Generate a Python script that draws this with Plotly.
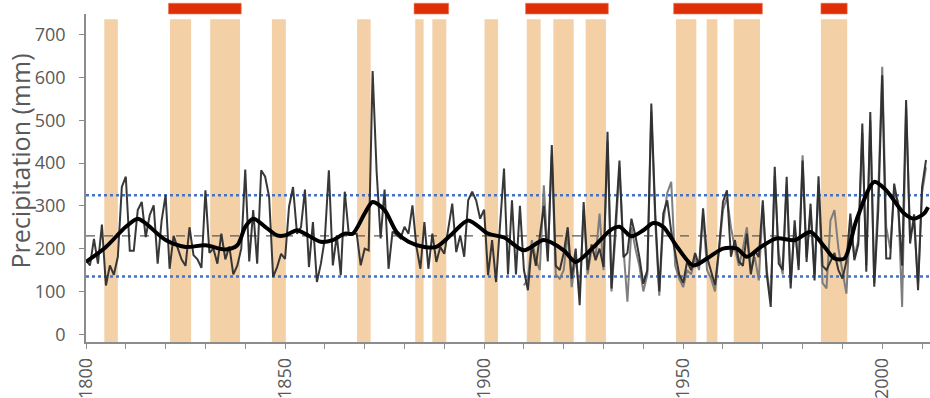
import plotly.graph_objects as go

# ---------------- data ----------------
years_main = list(range(1800, 2012))
precip_main = [
    173, 161, 223, 165, 256, 114, 161, 139, 181, 344,   # 1800-1809
    368, 195, 195, 290, 309, 227, 278, 301, 165, 266,   # 1810-1819
    325, 153, 230, 200, 175, 160, 250, 185, 175, 155,   # 1820-1829
    336, 190, 200, 165, 235, 175, 205, 140, 160, 200,   # 1830-1839
    385, 170, 290, 165, 383, 368, 321, 134, 157, 188,   # 1840-1849
    176, 298, 344, 235, 250, 338, 157, 262, 122, 165,   # 1850-1859
    224, 383, 161, 231, 138, 333, 235, 235, 235, 161,   # 1860-1869
    200, 196, 615, 380, 224, 338, 153, 240, 231, 224,   # 1870-1879
    251, 235, 301, 204, 153, 262, 153, 235, 169, 204,   # 1880-1889
    188, 251, 305, 192, 231, 181, 313, 333, 313, 270,   # 1890-1899
    291, 138, 220, 122, 251, 387, 140, 313, 140, 300,   # 1900-1909
    150, 103, 210, 160, 230, 300, 170, 442, 160, 150,   # 1910-1919
    190, 250, 130, 200, 68, 309, 150, 210, 173, 200,    # 1920-1929
    157, 473, 107, 250, 406, 180, 190, 270, 230, 180,   # 1930-1939
    118, 150, 539, 280, 100, 282, 313, 240, 190, 140,   # 1940-1949
    120, 170, 150, 190, 160, 294, 180, 150, 115, 200,   # 1950-1959
    309, 336, 181, 220, 170, 160, 235, 140, 196, 180,   # 1960-1969
    313, 140, 64, 391, 165, 150, 368, 107, 266, 150,    # 1970-1979
    406, 169, 305, 126, 369, 160, 150, 170, 190, 150,   # 1980-1989
    130, 170, 282, 173, 210, 492, 146, 519, 111, 290,   # 1990-1999
    605, 177, 177, 352, 300, 160, 547, 212, 280, 103,   # 2000-2009
    344, 407,                                           # 2010-2011
]

years_alt = list(range(1910, 2012))
precip_alt = [
    114, 130, 220, 175, 150, 348, 180, 420, 140, 130,   # 1910-1919
    150, 239, 110, 180, 90, 290, 140, 200, 180, 282,    # 1920-1929
    150, 450, 100, 230, 390, 200, 76, 250, 200, 160,    # 1930-1939
    100, 140, 520, 260, 90, 260, 330, 356, 160, 130,    # 1940-1949
    110, 150, 140, 180, 150, 280, 150, 130, 100, 190,   # 1950-1959
    290, 320, 250, 200, 160, 200, 250, 150, 180, 126,   # 1960-1969
    300, 150, 80, 370, 190, 140, 350, 120, 250, 160,    # 1970-1979
    418, 180, 290, 140, 350, 120, 107, 266, 290, 200,   # 1980-1989
    150, 95, 270, 180, 220, 470, 160, 500, 120, 330,    # 1990-1999
    625, 250, 200, 330, 310, 64, 530, 230, 260, 120,    # 2000-2009
    330, 390,                                           # 2010-2011
]

smooth_years = [1800, 1805, 1810, 1813, 1815, 1820, 1825, 1830, 1835, 1838,
                1840, 1842, 1845, 1848, 1850, 1853, 1855, 1859, 1862, 1865,
                1867, 1870, 1872, 1875, 1878, 1881, 1885, 1888, 1892, 1896,
                1901, 1905, 1910, 1915, 1920, 1923, 1927.5, 1932, 1934, 1937,
                1940, 1942.5, 1945, 1948.5, 1952.5, 1956, 1960, 1963.5, 1966,
                1969.5, 1973.5, 1978, 1982, 1985.5, 1988, 1990.5, 1993.5,
                1998, 2001, 2005.5, 2008, 2010.5, 2011.5]
smooth_vals = [169, 204, 251, 270, 259, 220, 204, 208, 198, 208,
               251, 270, 251, 231, 231, 243, 235, 216, 220, 235,
               235, 282, 309, 290, 239, 216, 204, 204, 235, 266,
               235, 226, 196, 220, 196, 169, 204, 245, 251, 229,
               243, 260, 251, 204, 161, 177, 200, 200, 181,
               204, 224, 220, 239, 204, 177, 177, 266,
               356, 336, 282, 270, 282, 297]

upper_threshold = 325
lower_threshold = 135
mean_level = 230

drought_start = [1804.6, 1821.1, 1831.2, 1846.7, 1868.1, 1882.7, 1887.0, 1900.1,
                 1910.7, 1917.4, 1925.5, 1948.2, 1955.9, 1962.7, 1984.6]
drought_end = [1808.0, 1826.4, 1838.7, 1850.2, 1871.5, 1884.8, 1890.5, 1903.5,
               1914.2, 1922.5, 1930.6, 1953.3, 1958.6, 1969.3, 1991.2]

period_start = [1820.7, 1882.4, 1910.4, 1947.6, 1984.6]
period_end = [1839.0, 1891.1, 1931.2, 1969.9, 1991.2]

x_ticks = list(range(1800, 2011, 10))
x_labels = [str(v) if v % 50 == 0 else "" for v in x_ticks]
y_ticks = [0, 100, 200, 300, 400, 500, 600, 700]
x_span = [1800, 2012]

# ---------------- figure ----------------
TXT = "#595959"
FONT = "Open Sans"

fig = go.Figure()

shapes = []
for s, e in zip(drought_start, drought_end):
    shapes.append(dict(type="rect", xref="x", yref="y", x0=s, x1=e, y0=-18, y1=736,
                       fillcolor="#F3D0A6", line=dict(width=0), layer="below"))
for s, e in zip(period_start, period_end):
    shapes.append(dict(type="rect", xref="x", yref="paper", x0=s, x1=e, y0=1.0, y1=1.033,
                       fillcolor="#DE2F06", line=dict(width=0.6, color="#F08060"), layer="above"))

for lvl, col, wid, dash in [(upper_threshold, "#4472C4", 2.5, "dot"),
                            (lower_threshold, "#4472C4", 2.5, "dot"),
                            (mean_level, "#595959", 1.2, "dash")]:
    fig.add_trace(go.Scatter(x=x_span, y=[lvl, lvl], mode="lines",
                             line=dict(color=col, width=wid, dash=dash),
                             showlegend=False, hoverinfo="skip"))

fig.add_trace(go.Scatter(x=years_alt, y=precip_alt, mode="lines",
                         line=dict(color="rgba(120,120,120,0.95)", width=2),
                         showlegend=False, hoverinfo="skip"))
fig.add_trace(go.Scatter(x=years_main, y=precip_main, mode="lines",
                         line=dict(color="rgba(45,45,45,0.95)", width=2),
                         showlegend=False))
fig.add_trace(go.Scatter(x=smooth_years, y=smooth_vals, mode="lines",
                         line=dict(color="#000000", width=4, shape="spline", smoothing=0.8),
                         showlegend=False))

fig.update_layout(
    width=930, height=398,
    margin=dict(l=86, r=0, t=14, b=56),
    paper_bgcolor="white", plot_bgcolor="white",
    font=dict(family=FONT, color=TXT),
    shapes=shapes,
    showlegend=False,
    annotations=[dict(text="Precipitation (mm)", xref="paper", yref="paper",
                      x=0, y=0.55, xshift=-66, xanchor="center", yanchor="middle",
                      textangle=-90, showarrow=False,
                      font=dict(size=25, color=TXT, family=FONT))],
)
fig.update_xaxes(
    range=x_span, showgrid=False, zeroline=False, automargin=False,
    showline=True, linecolor="#8C8C8C", linewidth=1.5,
    ticks="outside", ticklen=5, tickcolor="#8C8C8C",
    tickvals=x_ticks, ticktext=x_labels, tickangle=-90,
    tickfont=dict(size=18, color=TXT, family=FONT), ticklabelstandoff=2,
)
fig.update_yaxes(
    range=[-18, 748], showgrid=False, zeroline=False, automargin=False,
    showline=True, linecolor="#8C8C8C", linewidth=1.5,
    ticks="outside", ticklen=5, tickcolor="#8C8C8C",
    tickvals=y_ticks, tickfont=dict(size=18, color=TXT, family=FONT),
    ticklabelstandoff=10,
)

# remove the default 8px page margin so the figure fills the window exactly
fig.write_html("out.html", config={"displayModeBar": False},
               post_script="document.body.style.margin='0px';")
